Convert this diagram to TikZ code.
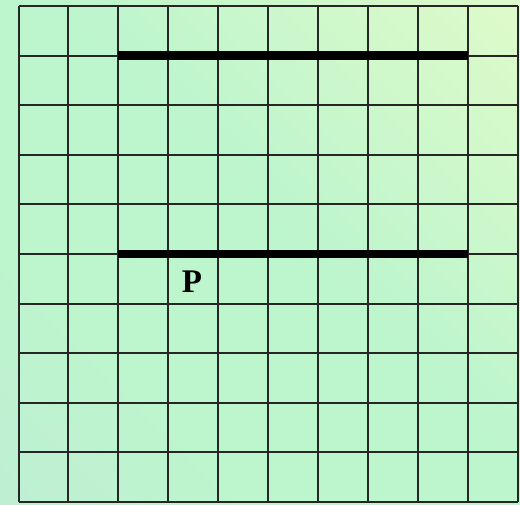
\documentclass[tikz,border=0pt]{standalone}
\usepackage{fontspec}
\setmainfont{Liberation Serif}
\definecolor{bgBL}{RGB}{192,233,216}
\definecolor{bgMid}{RGB}{189,245,205}
\definecolor{bgTR}{RGB}{238,253,200}
\pgfdeclareverticalshading{bgshade}{100bp}{color(0bp)=(bgBL); color(32bp)=(bgMid); color(54bp)=(bgMid); color(100bp)=(bgTR)}
\tikzset{
  gridline/.style={line width=2pt, black!85},
  thickline/.style={line width=8.5pt, black},
  lbl/.style={font=\fontsize{33}{33}\selectfont\bfseries, inner sep=0pt}
}
\begin{document}
\begin{tikzpicture}[x=1pt,y=1pt]
\useasboundingbox (0,0) rectangle (520,505);
\shade[shading=bgshade, shading angle=-45] (0,0) rectangle (520,505);
\foreach \i in {0,...,10} {
  \draw[gridline] ({18.5+49.95*\i},3) -- ({18.5+49.95*\i},499);
  \draw[gridline] (18.5,{3+49.6*\i}) -- (518,{3+49.6*\i});
}
\coordinate (a1) at (118.4,449.4);
\coordinate (a2) at (468.1,449.4);
\coordinate (b1) at (118.4,251);
\coordinate (b2) at (468.1,251);
\draw[thickline] (a1) -- (a2);
\draw[thickline] (b1) -- (b2);
\node[lbl] (P) at (192,223.5) {P};
\end{tikzpicture}
\end{document}
